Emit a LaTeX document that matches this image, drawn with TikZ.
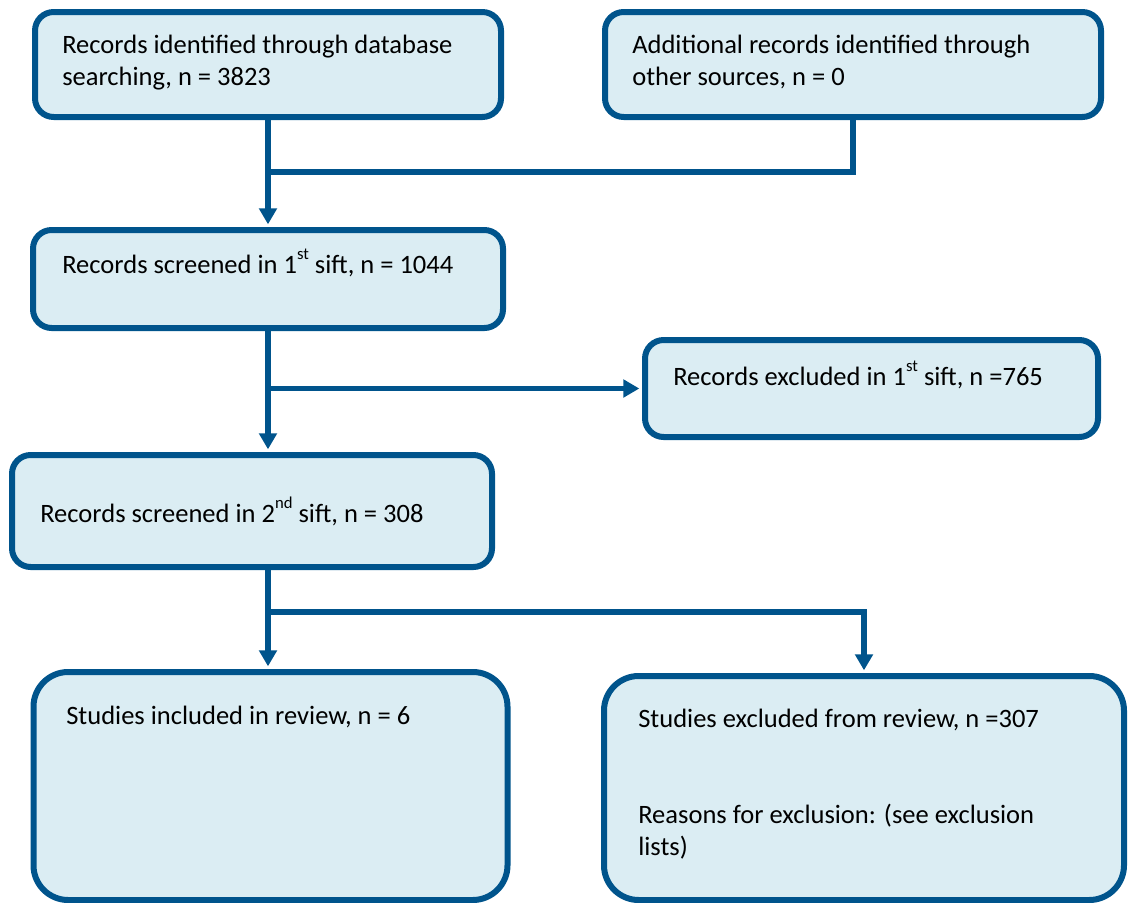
\documentclass[tikz,border=0pt]{standalone}
\usepackage{fontspec}
\setmainfont{Carlito}
\usepackage{xcolor}
\usepackage{tikz}
\usetikzlibrary{positioning,calc,arrows.meta}
\definecolor{boxline}{RGB}{0,84,140}
\definecolor{boxfill}{RGB}{219,237,243}
\newcommand{\ordsup}[1]{\raisebox{0.5em}{\fontsize{12.5}{12.5}\selectfont #1}}

\begin{document}
\begin{tikzpicture}[x=0.75pt,y=-0.75pt,
    stage/.style={draw=boxline,fill=boxfill,line width=4.5pt,rounded corners=14pt,inner sep=0pt},
    bigstage/.style={stage,rounded corners=26pt},
    txt/.style={anchor=base west,inner sep=0pt,font=\fontsize{19.9}{24}\selectfont},
    link/.style={draw=boxline,line width=4pt},
    flow/.style={link,shorten >=2pt,-{Triangle[length=12pt,width=13pt]}}]
    \useasboundingbox (0,0) rectangle (1128,903);
    % boxes
    \node[stage,minimum width=349.5pt,minimum height=78.75pt] (b1) at (268,64.5) {};
    \node[stage,minimum width=372pt,minimum height=78.75pt] (b2) at (853,64.5) {};
    \node[stage,minimum width=352.5pt,minimum height=73.5pt] (b3) at (268,279) {};
    \node[stage,minimum width=339.75pt,minimum height=72.75pt] (b4) at (871.5,388.5) {};
    \node[stage,minimum width=360pt,minimum height=84pt] (b5) at (252,511) {};
    \node[bigstage,minimum width=355.5pt,minimum height=171pt] (b6) at (270.5,786) {};
    \node[bigstage,minimum width=390pt,minimum height=168pt] (b7) at (864,788) {};
    % texts
    \node[txt] (t1a) at (62,53) {Records identified through database};
    \node[txt] (t1b) at (62,85) {searching, n = 3823};
    \node[txt] (t2a) at (632,53) {Additional records identified through};
    \node[txt] (t2b) at (632,85) {other sources, n = 0};
    \node[txt] (t3) at (62,273) {Records screened in 1\ordsup{st} sift, n = 1044};
    \node[txt] (t4) at (673,385) {Records excluded in 1\ordsup{st} sift, n =765};
    \node[txt] (t5) at (40,522) {Records screened in 2\ordsup{nd} sift, n = 308};
    \node[txt] (t6) at (66,724) {Studies included in review, n = 6};
    \node[txt] (t7a) at (638,727) {Studies excluded from review, n =307};
    \node[txt] (t7b) at (638,823) {Reasons for exclusion: (see exclusion};
    \node[txt] (t7c) at (638,855) {lists)};
    % connectors
    \coordinate (j1) at (268,172);
    \coordinate (j2) at (268,388.5);
    \coordinate (j3) at (268,612);
    \draw[link] (b2.south) |- (j1);
    \draw[flow] (b1.south) -- (b3.north);
    \draw[flow] (b3.south) -- (b3.south |- b5.north);
    \draw[flow] (j2) -- (b4.west);
    \draw[link] (b5.south -| j3) -- (j3);
    \draw[flow] (j3) -- (j3 |- b6.north);
    \draw[flow] (j3) -| (b7.north);
\end{tikzpicture}
\end{document}
